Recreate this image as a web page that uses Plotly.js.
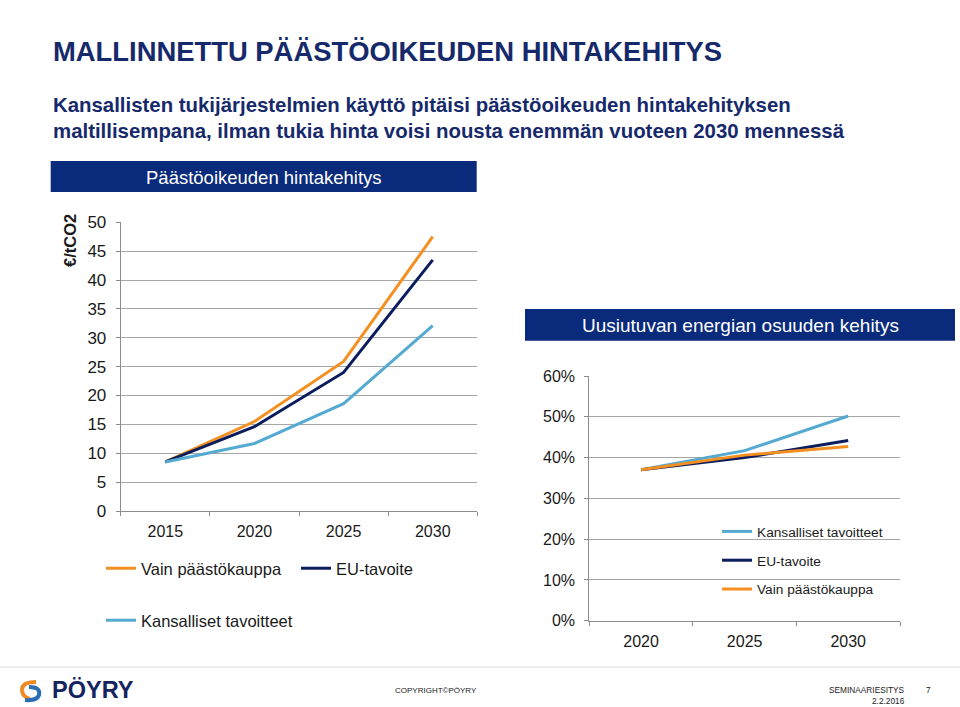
<!DOCTYPE html>
<html>
<head>
<meta charset="utf-8">
<script src="https://cdn.plot.ly/plotly-3.0.1.min.js"></script>
<style>html,body{margin:0;padding:0;background:#fff;}#chart{width:960px;height:707px;}</style>
</head>
<body>
<div id="chart"></div>
<script>
// ---- data ----
const priceYears = ["2015", "2020", "2025", "2030"];
const priceOnlyETS = [8.5, 15.5, 25.9, 47.5];      // Vain päästökauppa
const priceEU = [8.5, 14.6, 24.0, 43.5];           // EU-tavoite
const priceNational = [8.5, 11.7, 18.6, 32.1];     // Kansalliset tavoitteet

const resYears = ["2020", "2025", "2030"];
const resNational = [37.0, 41.7, 50.2];            // Kansalliset tavoitteet
const resEU = [37.0, 40.0, 44.2];                  // EU-tavoite
const resOnlyETS = [37.0, 40.6, 42.7];             // Vain päästökauppa

const nameOnlyETS = "Vain päästökauppa";
const nameEU = "EU-tavoite";
const nameNational = "Kansalliset tavoitteet";

const headline = "MALLINNETTU PÄÄSTÖOIKEUDEN HINTAKEHITYS";
const subLine1 = "Kansallisten tukijärjestelmien käyttö pitäisi päästöoikeuden hintakehityksen";
const subLine2 = "maltillisempana, ilman tukia hinta voisi nousta enemmän vuoteen 2030 mennessä";
const leftTitle = "Päästöoikeuden hintakehitys";
const rightTitle = "Uusiutuvan energian osuuden kehitys";
const yUnit = "€/tCO2";

// ---- style ----
const W = 960, H = 707;
const px = x => x / W;
const py = y => 1 - y / H;
const cOrange = "#f39021", cNavy = "#0c1d5e", cLight = "#55aad1";
const boxBlue = "#0a2a7b", headBlue = "#16296b";
const font = "Liberation Sans, Arial, sans-serif";

const traces = [
  {x: priceYears, y: priceOnlyETS, name: nameOnlyETS, type: "scatter", mode: "lines",
   line: {color: cOrange, width: 3}, xaxis: "x", yaxis: "y", legend: "legend"},
  {x: priceYears, y: priceEU, name: nameEU, type: "scatter", mode: "lines",
   line: {color: cNavy, width: 3}, xaxis: "x", yaxis: "y", legend: "legend"},
  {x: priceYears, y: priceNational, name: nameNational, type: "scatter", mode: "lines",
   line: {color: cLight, width: 3}, xaxis: "x", yaxis: "y", legend: "legend2"},
  {x: resYears, y: resNational, name: nameNational, type: "scatter", mode: "lines",
   line: {color: cLight, width: 3}, xaxis: "x2", yaxis: "y2", legend: "legend3", legendgroup: "a"},
  {x: resYears, y: resEU, name: nameEU, type: "scatter", mode: "lines",
   line: {color: cNavy, width: 3}, xaxis: "x2", yaxis: "y2", legend: "legend3", legendgroup: "b"},
  {x: resYears, y: resOnlyETS, name: nameOnlyETS, type: "scatter", mode: "lines",
   line: {color: cOrange, width: 3}, xaxis: "x2", yaxis: "y2", legend: "legend3", legendgroup: "c"}
];

const axisCommon = {
  showline: true, linecolor: "#8c8c8c", linewidth: 1,
  ticks: "outside", ticklen: 4, tickcolor: "#8c8c8c",
  tickfont: {family: font, size: 16, color: "#1a1a1a"},
  fixedrange: true
};

const layout = {
  width: W, height: H,
  margin: {l: 0, r: 0, t: 0, b: 0},
  paper_bgcolor: "#ffffff", plot_bgcolor: "#ffffff",
  font: {family: font, color: "#1a1a1a"},
  xaxis: Object.assign({}, axisCommon, {
    domain: [px(120.7), px(477.3)], anchor: "y", type: "category",
    range: [-0.5, priceYears.length - 0.5],
    tickson: "boundaries", showgrid: false, ticklabelstandoff: 6
  }),
  yaxis: Object.assign({}, axisCommon, {
    domain: [py(511), py(222.3)], anchor: "x", range: [0, 50], dtick: 5,
    showgrid: true, gridcolor: "#a6a6a6", gridwidth: 1, zeroline: false,
    ticklabelstandoff: 6, tickfont: {family: font, size: 17, color: "#1a1a1a"}
  }),
  xaxis2: Object.assign({}, axisCommon, {
    domain: [px(589.3), px(900)], anchor: "y2", type: "category",
    range: [-0.5, resYears.length - 0.5],
    tickson: "boundaries", showgrid: false, ticklabelstandoff: 6
  }),
  yaxis2: Object.assign({}, axisCommon, {
    domain: [py(620.7), py(376)], anchor: "x2", range: [0, 60], dtick: 10,
    ticksuffix: "%", showgrid: true, gridcolor: "#a6a6a6", gridwidth: 1, zeroline: false,
    ticklabelstandoff: 6
  }),
  legend: {
    orientation: "h", x: px(101), y: py(551), xanchor: "left", yanchor: "top",
    font: {family: font, size: 16.5, color: "#1a1a1a"}, bgcolor: "rgba(0,0,0,0)",
    entrywidth: 150, itemwidth: 30, traceorder: "normal"
  },
  legend2: {
    orientation: "h", x: px(101), y: py(603), xanchor: "left", yanchor: "top",
    font: {family: font, size: 16.5, color: "#1a1a1a"}, bgcolor: "rgba(0,0,0,0)",
    itemwidth: 30
  },
  legend3: {
    orientation: "v", x: px(717), y: py(516), xanchor: "left", yanchor: "top",
    font: {family: font, size: 13.7, color: "#1a1a1a"}, bgcolor: "rgba(0,0,0,0)",
    itemwidth: 30, tracegroupgap: 8, traceorder: "grouped"
  },
  shapes: [
    {type: "rect", xref: "paper", yref: "paper", x0: px(50.7), x1: px(476.7), y0: py(192), y1: py(161),
     fillcolor: boxBlue, line: {width: 0}, layer: "below"},
    {type: "rect", xref: "paper", yref: "paper", x0: px(525), x1: px(955), y0: py(340.7), y1: py(309),
     fillcolor: boxBlue, line: {width: 0}, layer: "below"},
    {type: "line", xref: "paper", yref: "paper", x0: 0, x1: 1, y0: py(667), y1: py(667),
     line: {color: "#dcdcdc", width: 1}},
    // logo mark
    {type: "path", xref: "paper", yref: "paper",
     path: "M " + px(36) + "," + py(682) + " Q " + px(21) + "," + py(682) + " " + px(22) + "," + py(691) + " Q " + px(23) + "," + py(697) + " " + px(30) + "," + py(699),
     line: {color: "#f08a24", width: 4}},
    {type: "path", xref: "paper", yref: "paper",
     path: "M " + px(29) + "," + py(687) + " Q " + px(41) + "," + py(687) + " " + px(39) + "," + py(695) + " Q " + px(37) + "," + py(701) + " " + px(25) + "," + py(700),
     line: {color: "#2a6fb5", width: 4}}
  ],
  annotations: [
    {text: headline, xref: "paper", yref: "paper", x: px(51), y: py(52), xanchor: "left", yanchor: "middle",
     showarrow: false, font: {family: font, size: 27.4, color: headBlue, weight: "bold"}},
    {text: subLine1, xref: "paper", yref: "paper", x: px(51), y: py(105), xanchor: "left", yanchor: "middle",
     showarrow: false, font: {family: font, size: 20.4, color: headBlue, weight: "bold"}},
    {text: subLine2, xref: "paper", yref: "paper", x: px(51), y: py(131), xanchor: "left", yanchor: "middle",
     showarrow: false, font: {family: font, size: 20.4, color: headBlue, weight: "bold"}},
    {text: leftTitle, xref: "paper", yref: "paper", x: px(263.7), y: py(177), xanchor: "center", yanchor: "middle",
     showarrow: false, font: {family: font, size: 18.5, color: "#ffffff"}},
    {text: rightTitle, xref: "paper", yref: "paper", x: px(740), y: py(325.5), xanchor: "center", yanchor: "middle",
     showarrow: false, font: {family: font, size: 19, color: "#ffffff"}},
    {text: yUnit, xref: "paper", yref: "paper", x: px(70), y: py(241), xanchor: "center", yanchor: "middle",
     textangle: -90, showarrow: false, font: {family: font, size: 16.5, color: "#1a1a1a", weight: "bold"}},
    {text: "PÖYRY", xref: "paper", yref: "paper", x: px(50), y: py(690), xanchor: "left", yanchor: "middle",
     showarrow: false, font: {family: font, size: 23.5, color: "#14245e", weight: "bold"}},
    {text: "COPYRIGHT©PÖYRY", xref: "paper", yref: "paper", x: px(393), y: py(690), xanchor: "left", yanchor: "middle",
     showarrow: false, font: {family: font, size: 8, color: "#222222"}},
    {text: "SEMINAARIESITYS", xref: "paper", yref: "paper", x: px(907), y: py(690), xanchor: "right", yanchor: "middle",
     showarrow: false, font: {family: font, size: 8.3, color: "#222222"}},
    {text: "7", xref: "paper", yref: "paper", x: px(928), y: py(690), xanchor: "center", yanchor: "middle",
     showarrow: false, font: {family: font, size: 8.3, color: "#222222"}},
    {text: "2.2.2016", xref: "paper", yref: "paper", x: px(907), y: py(701), xanchor: "right", yanchor: "middle",
     showarrow: false, font: {family: font, size: 8.3, color: "#222222"}}
  ]
};

Plotly.newPlot("chart", traces, layout, {displayModeBar: false, staticPlot: true});
</script>
</body>
</html>
